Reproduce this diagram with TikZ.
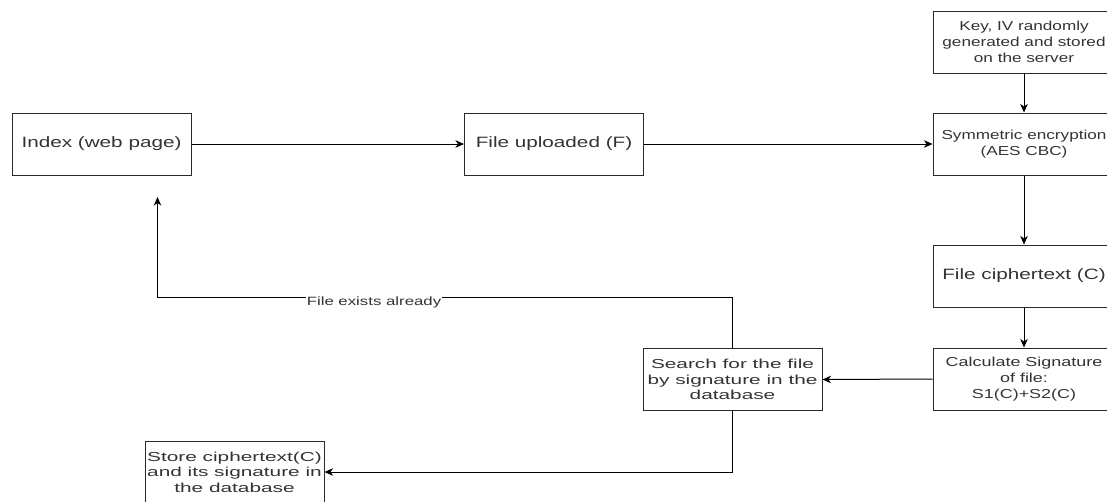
\documentclass[tikz,border=0pt]{standalone}
\usepackage{fontspec}
\setmainfont{Liberation Sans}
% widened faces for the box labels
\newfontfamily\wideA[FakeStretch=1.38]{Liberation Sans}
\newfontfamily\wideB[FakeStretch=1.6]{Liberation Sans}
\newfontfamily\wideC[FakeStretch=1.38]{Liberation Sans}
\newfontfamily\wideE[FakeStretch=1.32]{Liberation Sans}
\newfontfamily\wideD[FakeStretch=1.4]{Liberation Sans}
\usetikzlibrary{arrows.meta}
\definecolor{txt}{HTML}{333333}
\definecolor{edge}{HTML}{2A2A2A}

\tikzset{
  box/.style={draw=edge, line width=1pt, inner sep=0pt, align=center,
              text=txt, minimum width=179pt, minimum height=62pt},
  bigtxt/.style={font=\wideA\fontsize{15}{18}\selectfont},
  widetxt/.style={font=\wideB\fontsize{13}{15.5}\selectfont},
  smalltxt/.style={font=\wideC\fontsize{13}{16}\selectfont},
  narrowtxt/.style={font=\wideE\fontsize{13}{16}\selectfont},
  rbox/.style={box, minimum width=182pt},
  arr/.style={draw=black, line width=1pt,
              -{Stealth[length=8.5pt,width=7.5pt,inset=2.5pt]}},
  lbl/.style={fill=white, text=txt, inner sep=1pt,
              font=\wideD\fontsize{12}{14}\selectfont}
}

\begin{document}
\begin{tikzpicture}[x=1pt,y=-1pt]
  \useasboundingbox (0,0) rectangle (1107,501);
  \clip (0,0) rectangle (1107,501);

  % upper row
  \node[box, bigtxt] (index) at (101.5,144) {Index (web page)};
  \node[box, bigtxt] (upload) at (554,144) {File uploaded (F)};

  % right column
  \node[rbox, narrowtxt] (key) at (1024,42)
    {Key, IV randomly\\generated and stored\\on the server};
  \node[rbox, narrowtxt] (enc) at (1024,144)
    {Symmetric encryption\\(AES CBC)};
  \node[rbox, bigtxt] (cipher) at (1024,276) {File ciphertext (C)};
  \node[rbox, smalltxt] (calc) at (1024,379)
    {Calculate Signature\\of file:\\S1(C)+S2(C)};

  % lookup and storage
  \node[box, widetxt] (search) at (732.5,379.5)
    {Search for the file\\by signature in the\\database};
  \node[box, widetxt] (store) at (234.5,472)
    {Store ciphertext(C)\\and its signature in\\the database};

  % connectors
  \draw[arr] (index.east) -- (upload.west);
  \draw[arr] (upload.east) -- (enc.west);
  \draw[arr] (key.south) -- (enc.north);
  \draw[arr] (enc.south) -- (cipher.north);
  \draw[arr] (cipher.south) -- (calc.north);
  \draw[arr] (calc.west) -- (search.east);
  \draw[arr] (search.south) |- (store.east);

  % loop back when the file is already known
  \coordinate (backtip) at (157.5,197);
  \coordinate (backturn) at (157.5,297);
  \draw[arr] (search.north) |- (backturn) -- (backtip);
  \node[lbl] (exists) at (374,302) {File exists already};
\end{tikzpicture}
\end{document}
